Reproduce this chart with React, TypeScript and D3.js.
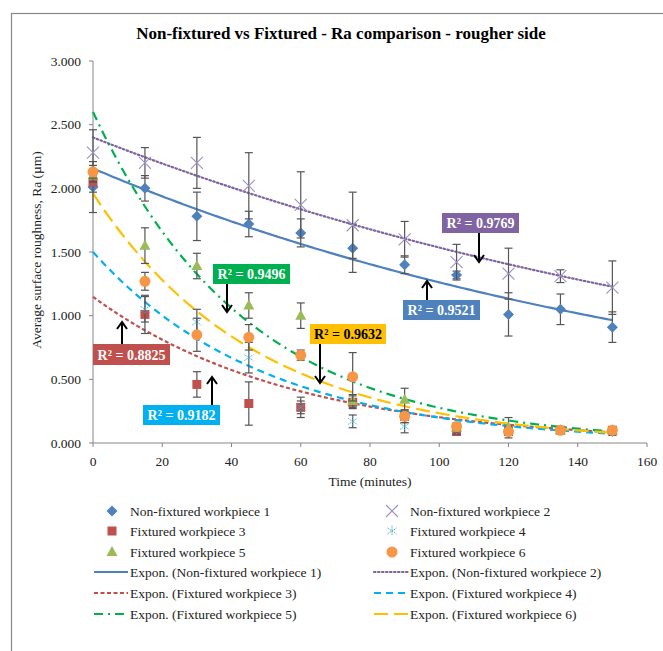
import React from 'react';
import * as d3 from 'd3';

const times = [0, 15, 30, 45, 60, 75, 90, 105, 120, 135, 150];

const seriesNames = [
  'Non-fixtured workpiece 1',
  'Non-fixtured workpiece 2',
  'Fixtured workpiece 3',
  'Fixtured workpiece 4',
  'Fixtured workpiece 5',
  'Fixtured workpiece 6',
];

const ra1 = [2.01, 2.0, 1.78, 1.72, 1.65, 1.53, 1.4, 1.32, 1.01, 1.05, 0.91];
const ra2 = [2.28, 2.2, 2.2, 2.02, 1.87, 1.71, 1.6, 1.42, 1.33, 1.31, 1.22];
const ra3 = [2.05, 1.01, 0.46, 0.31, 0.28, 0.32, 0.21, 0.09, 0.09, 0.1, 0.1];
const ra4 = [2.1, 1.05, 0.95, 0.67, 0.28, 0.17, 0.13, 0.1, 0.1, 0.1, 0.08];
const ra5 = [2.1, 1.55, 1.39, 1.08, 1.0, 0.33, 0.34, 0.12, 0.12, 0.1, 0.1];
const ra6 = [2.13, 1.27, 0.85, 0.83, 0.69, 0.52, 0.21, 0.13, 0.09, 0.1, 0.1];

const err1 = [0.2, 0.1, 0.19, 0.1, 0.11, 0.19, 0.07, 0.03, 0.17, 0.12, 0.12];
const err2 = [0.18, 0.12, 0.2, 0.26, 0.26, 0.26, 0.14, 0.14, 0.2, 0.05, 0.21];
const err3 = [0.08, 0.15, 0.1, 0.17, 0.08, 0.05, 0.05, 0.03, 0.03, 0.02, 0.02];
const err4 = [0.05, 0.1, 0.1, 0.12, 0.05, 0.05, 0.05, 0.03, 0.03, 0.02, 0.02];
const err5 = [0.05, 0.14, 0.1, 0.1, 0.1, 0.05, 0.09, 0.03, 0.08, 0.02, 0.02];
const err6 = [0.05, 0.07, 0.13, 0.1, 0.04, 0.19, 0.05, 0.03, 0.03, 0.02, 0.02];

// exponential trendline y = a * exp(b * x)
const trendA = [2.156, 2.4, 1.148, 1.5, 2.6, 1.96];
const trendB = [-0.00536, -0.00447, -0.01736, -0.0202, -0.02242, -0.02128];

const r2Labels = ['R² = 0.9521', 'R² = 0.9769', 'R² = 0.8825', 'R² = 0.9182', 'R² = 0.9496', 'R² = 0.9632'];

const yTicks = [0, 0.5, 1, 1.5, 2, 2.5, 3];
const xTicks = [0, 20, 40, 60, 80, 100, 120, 140, 160];

const allRa = [ra1, ra2, ra3, ra4, ra5, ra6];
const allErr = [err1, err2, err3, err4, err5, err6];

const markerColors = ['#4F81BD', '#9C8FC4', '#C0504D', '#4BACC6', '#9BBB59', '#F79646'];
const trendColors = ['#4F81BD', '#8064A2', '#C0504D', '#00B0F0', '#00B050', '#FFC000'];
const trendDash = ['none', '1.5 2.5', '4 2.5', '7 5', '9 5 2 5', '14 6'];
const labelBg = ['#4F81BD', '#8064A2', '#C0504D', '#00B0F0', '#00B050', '#FFC000'];
const labelFg = ['#fff', '#fff', '#fff', '#fff', '#fff', '#000'];

const FONT = '"Liberation Serif", "Times New Roman", serif';

const left = 93;
const top = 61;
const plotW = 554;
const plotH = 382;

const x = d3.scaleLinear().domain([0, 160]).range([left, left + plotW]);
const y = d3.scaleLinear().domain([0, 3]).range([top + plotH, top]);

function Marker({ kind, cx, cy }: { kind: number; cx: number; cy: number }) {
  const c = markerColors[kind];
  if (kind === 0) {
    return <path d={`M${cx},${cy - 5.5}L${cx + 5.5},${cy}L${cx},${cy + 5.5}L${cx - 5.5},${cy}Z`} fill={c} />;
  }
  if (kind === 1) {
    return (
      <g stroke={c} strokeWidth={1.1}>
        <line x1={cx - 6} y1={cy - 6} x2={cx + 6} y2={cy + 6} />
        <line x1={cx - 6} y1={cy + 6} x2={cx + 6} y2={cy - 6} />
      </g>
    );
  }
  if (kind === 2) {
    return <rect x={cx - 4.5} y={cy - 4.5} width={9} height={9} fill={c} />;
  }
  if (kind === 3) {
    return (
      <g stroke={c} strokeWidth={1} strokeDasharray="1.5 1">
        <line x1={cx} y1={cy - 5} x2={cx} y2={cy + 5} />
        <line x1={cx - 4.5} y1={cy - 3} x2={cx + 4.5} y2={cy + 3} />
        <line x1={cx - 4.5} y1={cy + 3} x2={cx + 4.5} y2={cy - 3} />
      </g>
    );
  }
  if (kind === 4) {
    return <path d={`M${cx},${cy - 6}L${cx + 5.5},${cy + 4}L${cx - 5.5},${cy + 4}Z`} fill={c} />;
  }
  return <circle cx={cx} cy={cy} r={5.5} fill={c} />;
}

// R² callouts: box position and arrow (from, to)
const callouts = [
  { bx: 403, by: 300, bw: 77, bh: 20, ax: 427, ay1: 300, ay2: 281 },
  { bx: 442, by: 213, bw: 77, bh: 20, ax: 479, ay1: 233, ay2: 262 },
  { bx: 93, by: 344, bw: 77, bh: 21, ax: 122, ay1: 344, ay2: 322 },
  { bx: 143, by: 405, bw: 77, bh: 20, ax: 212, ay1: 405, ay2: 377 },
  { bx: 213, by: 264, bw: 77, bh: 20, ax: 227, ay1: 284, ay2: 312 },
  { bx: 310, by: 324, bw: 76, bh: 20, ax: 320, ay1: 344, ay2: 383 },
];

export default function App() {
  const trendXs = d3.range(0, 150.01, 1);

  const legendRows = [511, 531, 552, 572, 593, 614];
  // marker x, text x, line start, line end
  const colX = [[112, 130, 94, 128], [392, 410, 374, 408]];

  return (
    <svg width={663} height={651} style={{ position: 'absolute', left: 0, top: 0 }} fontFamily={FONT}>
      <rect x={0} y={0} width={663} height={651} fill="#fff" />
      <rect x={11.5} y={13.5} width={700} height={700} fill="#fff" stroke="#888" strokeWidth={1.2} />
      <text x={341} y={39} textAnchor="middle" fontSize={17} fontWeight="bold" fill="#000">
        Non-fixtured vs Fixtured - Ra comparison - rougher side
      </text>

      {/* axes */}
      <line x1={left} y1={top} x2={left} y2={top + plotH} stroke="#868686" />
      <line x1={left} y1={top + plotH} x2={left + plotW} y2={top + plotH} stroke="#868686" />
      {yTicks.map((t) => (
        <g key={t}>
          <line x1={left - 4} x2={left} y1={y(t)} y2={y(t)} stroke="#868686" />
          <text x={left - 12} y={y(t) + 4.5} textAnchor="end" fontSize={13.5} fill="#222">
            {d3.format('.3f')(t)}
          </text>
        </g>
      ))}
      {xTicks.map((t) => (
        <g key={t}>
          <line x1={x(t)} x2={x(t)} y1={top + plotH} y2={top + plotH + 4} stroke="#868686" />
          <text x={x(t)} y={top + plotH + 23} textAnchor="middle" fontSize={13.5} fill="#222">
            {t}
          </text>
        </g>
      ))}
      <text x={left + plotW / 2} y={486} textAnchor="middle" fontSize={13.5} fill="#222">
        Time (minutes)
      </text>
      <text
        transform={`translate(41,${top + plotH / 2 - 2}) rotate(-90)`}
        textAnchor="middle"
        fontSize={13.5}
        fill="#222"
      >
        Average surface roughness, Ra (µm)
      </text>

      {/* trendlines */}
      {trendA.map((a, i) => (
        <path
          key={i}
          d={
            d3
              .line<number>()
              .x((d) => x(d))
              .y((d) => y(a * Math.exp(trendB[i] * d)))(trendXs) || ''
          }
          fill="none"
          stroke={trendColors[i]}
          strokeWidth={2.2}
          strokeDasharray={trendDash[i]}
          strokeLinecap={i === 1 ? 'round' : 'butt'}
        />
      ))}

      {/* error bars & markers */}
      {allRa.map((vals, s) => (
        <g key={s}>
          {vals.map((v, k) => {
            const e = allErr[s][k];
            const cx = x(times[k]);
            return (
              <g key={k} stroke="#555" strokeWidth={1.2}>
                <line x1={cx} x2={cx} y1={y(v + e)} y2={y(v - e)} />
                <line x1={cx - 4} x2={cx + 4} y1={y(v + e)} y2={y(v + e)} />
                <line x1={cx - 4} x2={cx + 4} y1={y(v - e)} y2={y(v - e)} />
              </g>
            );
          })}
          {vals.map((v, k) => (
            <Marker key={k} kind={s} cx={x(times[k])} cy={y(v)} />
          ))}
        </g>
      ))}

      {/* R² callouts */}
      {callouts.map((c, i) => {
        const up = c.ay2 < c.ay1;
        return (
          <g key={i}>
            <rect x={c.bx} y={c.by} width={c.bw} height={c.bh} fill={labelBg[i]} />
            <text
              x={c.bx + c.bw / 2}
              y={c.by + c.bh / 2 + 5}
              textAnchor="middle"
              fontSize={14}
              fontWeight="bold"
              fill={labelFg[i]}
            >
              {r2Labels[i]}
            </text>
            <line x1={c.ax} x2={c.ax} y1={c.ay1} y2={c.ay2} stroke="#000" strokeWidth={2} />
            <path
              d={
                up
                  ? `M${c.ax - 5},${c.ay2 + 7}L${c.ax},${c.ay2}L${c.ax + 5},${c.ay2 + 7}`
                  : `M${c.ax - 5},${c.ay2 - 7}L${c.ax},${c.ay2}L${c.ax + 5},${c.ay2 - 7}`
              }
              fill="none"
              stroke="#000"
              strokeWidth={2}
            />
          </g>
        );
      })}

      {/* legend */}
      {seriesNames.map((n, i) => {
        const col = colX[i % 2];
        const ry = legendRows[Math.floor(i / 2)];
        return (
          <g key={n}>
            <Marker kind={i} cx={col[0]} cy={ry} />
            <text x={col[1]} y={ry + 4.5} fontSize={13.5} fill="#222">
              {n}
            </text>
          </g>
        );
      })}
      {seriesNames.map((n, i) => {
        const col = colX[i % 2];
        const ry = legendRows[3 + Math.floor(i / 2)];
        return (
          <g key={'t' + n}>
            <line
              x1={col[2]}
              x2={col[3]}
              y1={ry}
              y2={ry}
              stroke={trendColors[i]}
              strokeWidth={2.2}
              strokeDasharray={trendDash[i]}
              strokeLinecap={i === 1 ? 'round' : 'butt'}
            />
            <text x={col[3] + 2} y={ry + 4.5} fontSize={13.5} fill="#222">
              {`Expon. (${n})`}
            </text>
          </g>
        );
      })}
    </svg>
  );
}
